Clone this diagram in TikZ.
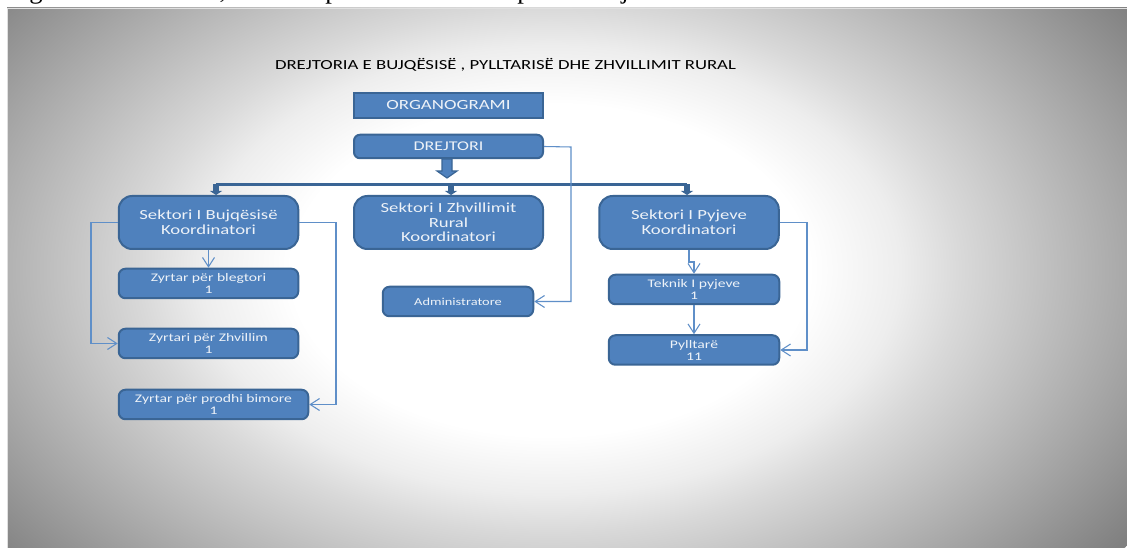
\documentclass[tikz,border=0pt]{standalone}
\usepackage{fontspec}
\setmainfont{Liberation Serif}
\newfontfamily\cf[FakeStretch=1.35]{Carlito}
\usetikzlibrary{arrows.meta}
\definecolor{boxfill}{HTML}{4F81BD}
\definecolor{boxline}{HTML}{3A6595}
\definecolor{connline}{HTML}{5F8FC8}
\definecolor{boxtext}{HTML}{EDF2F8}
\pgfdeclareradialshading{bgglow}{\pgfpoint{0bp}{0bp}}{%
  rgb(0bp)=(1,1,1);rgb(9bp)=(1,1,1);rgb(12.15bp)=(.93,.93,.93);
  rgb(14.25bp)=(.85,.85,.85);rgb(20bp)=(.66,.66,.66);rgb(24.8bp)=(.50,.50,.50);rgb(50bp)=(.50,.50,.50)}
\tikzset{
  x=0.75pt,y=-0.75pt,
  orgbox/.style={draw=boxline,fill=boxfill,line width=1.5pt,text=boxtext,align=center,inner sep=0pt,anchor=center},
  sector/.style={orgbox,rounded corners=10pt,minimum width=179.5*0.75pt,minimum height=53*0.75pt,font=\cf\fontsize{10.4}{11}\selectfont},
  small/.style={orgbox,rounded corners=5pt,minimum height=29.5*0.75pt,font=\cf\fontsize{8.7}{9}\selectfont},
  conn/.style={draw=connline,line width=0.8pt,-{Straight Barb[length=7pt,width=9pt]}},
  heavy/.style={draw=boxline,line width=2.5pt},
  stub/.style={draw=boxline,line width=3.8pt,-{Triangle[length=3pt,width=9pt,fill=boxline]}},
  frag/.style={inner sep=0pt,anchor=base,font=\fontsize{20}{20}\selectfont}
}
\begin{document}
\begin{tikzpicture}
\useasboundingbox (0,0) rectangle (1127,548);
\fill[white] (0,0) rectangle (1127,548);
\begin{scope}
\clip (7,8) rectangle (1127,548);
\shade[shading=bgglow] (550,270) ellipse [x radius=720,y radius=461];
\end{scope}
\draw[draw=black!12,line width=0.6pt] (7,548) -- (7,8) -- (1127,8);
% fragments of the cropped line above the figure
\node[frag] (fa) at (36,-1) {g};
\node[frag] (fb) at (223,-1) {,};
\node[frag] (fc) at (332,-1) {p};
\node[frag] (fd) at (524,-1) {p};
\node[frag] (fe) at (625,-1) {j};
% title
\node[inner sep=0pt,font=\cf\fontsize{10.4}{11}\selectfont,text=black] (title) at (505.5,65) {DREJTORIA E BUJQËSISË , PYLLTARISË DHE ZHVILLIMIT RURAL};
% boxes
\node[orgbox,minimum width=189*0.75pt,minimum height=25.5*0.75pt,font=\cf\fontsize{10.5}{11}\selectfont] (organo) at (448.5,105.5) {ORGANOGRAMI};
\node[orgbox,rounded corners=4.5pt,minimum width=189*0.75pt,minimum height=23.5*0.75pt,font=\cf\fontsize{10}{11}\selectfont] (drejtori) at (448.5,146.5) {DREJTORI};
\node[sector] (bujq) at (208.5,222.5) {Sektori I Bujqësisë\\Koordinatori};
\node[sector,minimum width=189*0.75pt] (rural) at (448.5,222.5) {Sektori I Zhvillimit\\Rural\\Koordinatori};
\node[sector] (pyje) at (689,222.5) {Sektori I Pyjeve\\Koordinatori};
\node[small,minimum width=179.5*0.75pt] (blegtori) at (208.5,283.5) {Zyrtar për blegtori\\1};
\node[small,minimum width=179.5*0.75pt] (zhvillim) at (208.5,343.5) {Zyrtari për Zhvillim\\1};
\node[small,minimum width=189.5*0.75pt] (prodhi) at (213.5,404.5) {Zyrtar për prodhi bimore\\1};
\node[small,minimum width=150.5*0.75pt,font=\cf\fontsize{8}{9}\selectfont] (admin) at (458,301.5) {Administratore};
\node[small,minimum width=170.5*0.75pt] (teknik) at (694,289.5) {Teknik I pyjeve\\1};
\node[small,minimum width=170.5*0.75pt] (pylltare) at (694,350) {Pylltarë\\11};
% heavy bus
\coordinate (busL) at (216,184.5);
\coordinate (busM) at (451,184.5);
\coordinate (busR) at (687,184.5);
\draw[heavy] (busL) -- (busR);
\draw[stub] (busL) -- (busL |- bujq.north);
\draw[stub] (busM) -- (busM |- rural.north);
\draw[stub] (busR) -- (busR |- pyje.north);
\coordinate (busTop) at (447,178);
\draw[draw=boxline,fill=boxfill,line width=0.9pt]
  (442,159) -- (452,159) -- (452,171) -- (457,171) -- (busTop) -- (437,171) -- (442,171) -- cycle;
% thin connectors
\coordinate (t1) at (571,147);
\draw[conn] (drejtori.east) -- (t1) -- (t1 |- admin.east) -- (admin.east);
\coordinate (t2) at (91,222.5);
\draw[conn] (bujq.west) -- (t2) -- (t2 |- zhvillim.west) -- (zhvillim.west);
\coordinate (t3) at (336,222.5);
\draw[conn] (bujq.east) -- (t3) -- (t3 |- prodhi.east) -- (prodhi.east);
\draw[conn] (bujq.south) -- (blegtori.north);
\coordinate (t4) at (689,262);
\draw[conn] (pyje.south) -- (t4) -- (t4 -| teknik.north) -- (teknik.north);
\draw[conn] (teknik.south) -- (pylltare.north);
\coordinate (t5) at (807,222.5);
\draw[conn] (pyje.east) -- (t5) -- (t5 |- pylltare.east) -- (pylltare.east);
\end{tikzpicture}
\end{document}
